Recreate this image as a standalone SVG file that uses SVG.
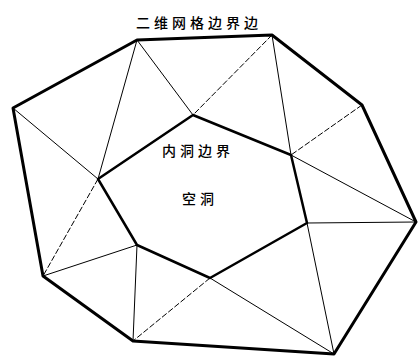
<svg xmlns="http://www.w3.org/2000/svg" width="419" height="357" viewBox="0 0 419 357">
<style>
.bg{fill:#fff}
.outer{fill:none;stroke:#000;stroke-width:3;stroke-linejoin:round}
.inner{fill:none;stroke:#000;stroke-width:2.5;stroke-linejoin:round}
.thin{stroke:#000;stroke-width:1;fill:none}
.dash{stroke:#000;stroke-width:1;fill:none;stroke-dasharray:6 2}
text{font-family:"Noto Sans CJK SC","Noto Sans CJK JP",sans-serif;font-size:14px;letter-spacing:4px;font-weight:500;fill:#000}
</style>
<rect class="bg" width="419" height="357"/>
<g id="connectors">
<line class="thin" x1="137" y1="40" x2="98" y2="179"/>
<line class="thin" x1="137" y1="40" x2="193" y2="115"/>
<line class="dash" x1="272" y1="35" x2="193" y2="115"/>
<line class="thin" x1="272" y1="35" x2="291" y2="155"/>
<line class="dash" x1="362" y1="105" x2="291" y2="155"/>
<line class="thin" x1="291" y1="155" x2="416" y2="222"/>
<line class="thin" x1="307" y1="223" x2="416" y2="222"/>
<line class="thin" x1="307" y1="223" x2="334" y2="354"/>
<line class="thin" x1="210" y1="278" x2="334" y2="354"/>
<line class="dash" x1="210" y1="278" x2="133" y2="341"/>
<line class="thin" x1="137" y1="245" x2="133" y2="341"/>
<line class="thin" x1="137" y1="245" x2="43" y2="276"/>
<line class="dash" x1="98" y1="179" x2="43" y2="276"/>
<line class="thin" x1="13" y1="108" x2="98" y2="179"/>
</g>
<g id="outer-boundary">
<polygon class="outer" points="137,40 272,35 362,105 416,222 334,354 133,341 43,276 13,108"/>
<text x="136" y="28">二维网格边界边</text>
</g>
<g id="inner-boundary">
<polygon class="inner" points="193,115 291,155 307,223 210,278 137,245 98,179"/>
<text x="162" y="156">内洞边界</text>
</g>
<g id="hole">
<text x="182" y="204">空洞</text>
</g>
</svg>
